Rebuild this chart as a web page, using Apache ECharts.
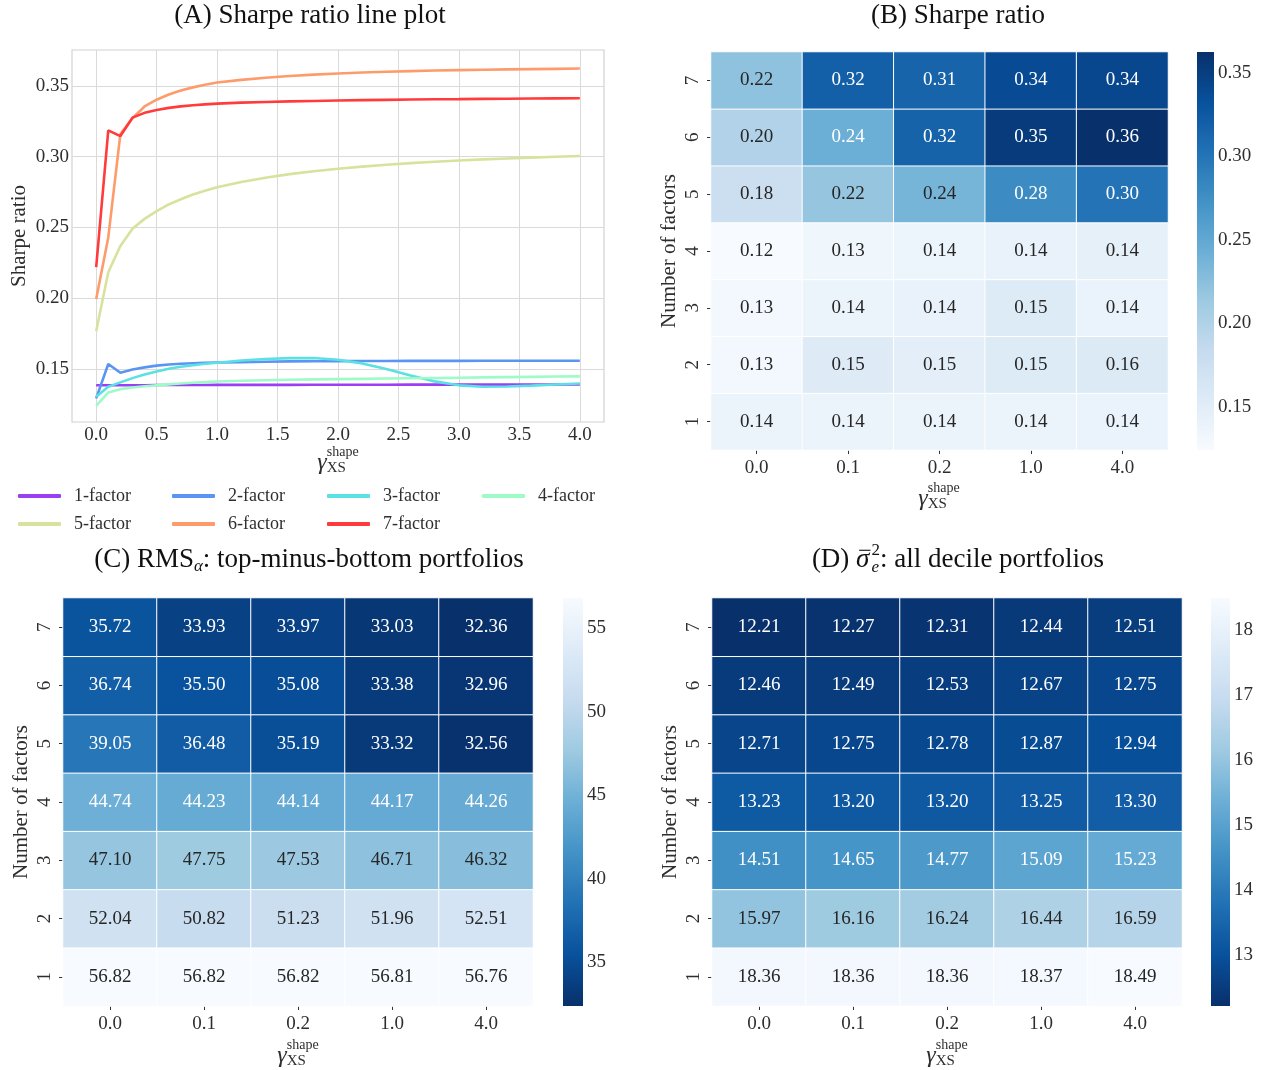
<!DOCTYPE html>
<html><head><meta charset="utf-8">
<script src="https://cdn.jsdelivr.net/npm/echarts@6/dist/echarts.min.js"></script>
<style>html,body{margin:0;padding:0;background:#fff}#c{width:1265px;height:1070px}</style>
</head><body><div id="c"></div><script>
// ---------------- DATA ----------------
const gammaGrid = [0,0.1,0.2,0.3,0.4,0.5,0.6,0.7,0.8,0.9,1.0,1.2,1.4,1.6,1.8,2.0,2.2,2.4,2.6,2.8,3.0,3.2,3.4,3.6,3.8,4.0];
const factorNames = ['1-factor','2-factor','3-factor','4-factor','5-factor','6-factor','7-factor'];
const sharpe1f = [0.1386,0.1386,0.1386,0.1386,0.1386,0.1387,0.1387,0.1387,0.1387,0.1387,0.1388,0.1388,0.1388,0.1388,0.1389,0.1389,0.1389,0.1389,0.1390,0.1390,0.1390,0.1390,0.1390,0.1391,0.1391,0.1391];
const sharpe2f = [0.1293,0.1536,0.1474,0.1497,0.1512,0.1524,0.1532,0.1537,0.1541,0.1544,0.1546,0.1549,0.1552,0.1554,0.1555,0.1556,0.1557,0.1557,0.1558,0.1558,0.1558,0.1559,0.1559,0.1559,0.1559,0.1559];
const sharpe3f = [0.1304,0.1375,0.1406,0.1436,0.1462,0.1483,0.1502,0.1516,0.1527,0.1537,0.1545,0.1560,0.1571,0.1577,0.1578,0.1566,0.1540,0.1500,0.1455,0.1413,0.1385,0.1375,0.1377,0.1383,0.1391,0.1398];
const sharpe4f = [0.1240,0.1335,0.1358,0.1370,0.1378,0.1385,0.1392,0.1398,0.1403,0.1408,0.1412,0.1417,0.1421,0.1424,0.1427,0.1429,0.1431,0.1433,0.1435,0.1437,0.1439,0.1441,0.1443,0.1445,0.1447,0.1448];
const sharpe5f = [0.1767,0.2184,0.2370,0.2491,0.2561,0.2616,0.2663,0.2700,0.2733,0.2760,0.2785,0.2822,0.2852,0.2877,0.2897,0.2915,0.2930,0.2943,0.2955,0.2965,0.2973,0.2981,0.2988,0.2994,0.3000,0.3005];
const sharpe6f = [0.1995,0.2430,0.3160,0.3272,0.3355,0.3403,0.3440,0.3468,0.3490,0.3508,0.3524,0.3543,0.3558,0.3570,0.3580,0.3588,0.3595,0.3600,0.3605,0.3609,0.3612,0.3615,0.3617,0.3619,0.3621,0.3623];
const sharpe7f = [0.2220,0.3186,0.3146,0.3276,0.3310,0.3330,0.3345,0.3356,0.3364,0.3370,0.3375,0.3382,0.3387,0.3391,0.3394,0.3397,0.3400,0.3402,0.3404,0.3406,0.3407,0.3409,0.3410,0.3411,0.3412,0.3413];
const lineColors = ['#9b3ff5','#5b95f4','#5be0e3','#9dfbc8','#d8e29c','#fe9b6b','#ff3b3b'];

const heatCats = ['0.0','0.1','0.2','1.0','4.0'];
const heatGammaIdx = [0,1,2,10,25];           // positions of 0.0, 0.1, 0.2, 1.0, 4.0 in gammaGrid
const factorRows = ['1','2','3','4','5','6','7'];
// rows: 1-factor ... 7-factor
const rmsAlpha = [
  [56.82,56.82,56.82,56.81,56.76],
  [52.04,50.82,51.23,51.96,52.51],
  [47.10,47.75,47.53,46.71,46.32],
  [44.74,44.23,44.14,44.17,44.26],
  [39.05,36.48,35.19,33.32,32.56],
  [36.74,35.50,35.08,33.38,32.96],
  [35.72,33.93,33.97,33.03,32.36]
];
const sigmaE = [
  [18.36,18.36,18.36,18.37,18.49],
  [15.97,16.16,16.24,16.44,16.59],
  [14.51,14.65,14.77,15.09,15.23],
  [13.23,13.20,13.20,13.25,13.30],
  [12.71,12.75,12.78,12.87,12.94],
  [12.46,12.49,12.53,12.67,12.75],
  [12.21,12.27,12.31,12.44,12.51]
];
const xTicksA = [0,0.5,1.0,1.5,2.0,2.5,3.0,3.5,4.0];
const yTicksA = [0.15,0.20,0.25,0.30,0.35];
const cbTicksB = [0.15,0.20,0.25,0.30,0.35];
const cbTicksC = [35,40,45,50,55];
const cbTicksD = [13,14,15,16,17,18];

// ---------------- STYLE ----------------
const FONT = "'Liberation Serif', 'DejaVu Serif', serif";
const TXT = '#2e2e2e';
const BLUES = ['#f7fbff','#deebf7','#c6dbef','#9ecae1','#6baed6','#4292c6','#2171b5','#08519c','#08306b'];
const BLUES_R = BLUES.slice().reverse();

const sharpeSeries = [sharpe1f,sharpe2f,sharpe3f,sharpe4f,sharpe5f,sharpe6f,sharpe7f];
const sharpeHeat = sharpeSeries.map(s => heatGammaIdx.map(i => s[i]));

function flat(m){ return m.reduce((a,r)=>a.concat(r),[]); }
function cmap(t){ return echarts.color.lerp(Math.max(0,Math.min(1,t)), BLUES); }
function lum(c){
  const p = echarts.color.parse(c);
  const f = v => { v/=255; return v<=0.03928 ? v/12.92 : Math.pow((v+0.055)/1.055,2.4); };
  return 0.2126*f(p[0])+0.7152*f(p[1])+0.0722*f(p[2]);
}
function heatData(mat, min, max, reverse){
  const out=[];
  mat.forEach((row,r)=>row.forEach((v,c)=>{
    let t=(v-min)/(max-min); if(reverse) t=1-t;
    out.push({value:[c,r,v], label:{color: lum(cmap(t))>0.408 ? '#262626' : '#ffffff'}});
  }));
  return out;
}
const rangeB = [Math.min(...flat(sharpeHeat)), Math.max(...flat(sharpeHeat))];
const rangeC = [Math.min(...flat(rmsAlpha)), Math.max(...flat(rmsAlpha))];
const rangeD = [Math.min(...flat(sigmaE)), Math.max(...flat(sigmaE))];

// math-ish text helper built from graphic text elements
const mctx = document.createElement('canvas').getContext('2d');
function fnt(size, italic){ return (italic?'italic ':'') + size + 'px ' + FONT; }
function tw(text,size,italic){ mctx.font = fnt(size,italic); return mctx.measureText(text).width; }
function mathText(parts, cx, cy, color){
  const widths = parts.map(p => p.stack ? Math.max(...p.stack.map(q=>tw(q.t,q.size,q.italic))) : tw(p.t,p.size,p.italic) + (p.extra||0));
  const total = widths.reduce((a,b)=>a+b,0);
  let x = cx - total/2; const els=[];
  parts.forEach((p,i)=>{
    (p.stack || [p]).forEach(q=>{
      els.push({type:'text', x:x+(q.dx||0), y:cy+(q.dy||0), silent:true, z:100,
        style:{text:q.t, font:fnt(q.size,q.italic), fill:color,
               align:'left', textAlign:'left', verticalAlign:'middle', textVerticalAlign:'middle'}});
      if(q.overline){
        els.push({type:'line', silent:true, z:100, shape:{x1:x+3, y1:cy-q.size*0.36, x2:x+widths[i]-1, y2:cy-q.size*0.36},
          style:{stroke:color, lineWidth:1.1}});
      }
    });
    x += widths[i];
  });
  return els;
}
const TS = 27;
function gammaName(cx, cy){
  return mathText([{t:'γ',size:24,italic:true},{stack:[{t:'XS',size:15,dy:5},{t:'shape',size:14,dy:-11}]}], cx, cy, TXT);
}
const graphics = [].concat(
  mathText([{t:'(A) Sharpe ratio line plot',size:TS}], 310, 16, '#111'),
  mathText([{t:'(B) Sharpe ratio',size:TS}], 958, 16, '#111'),
  mathText([{t:'(C) RMS',size:TS},{t:'α',size:17,italic:true,dy:7},{t:': top-minus-bottom portfolios',size:TS}], 309, 560, '#111'),
  mathText([{t:'(D) ',size:TS},{t:'σ',size:TS,italic:true,overline:true,extra:2},{stack:[{t:'2',size:17,dy:-9},{t:'e',size:17,italic:true,dy:8}]},{t:': all decile portfolios',size:TS}], 958, 560, '#111'),
  gammaName(338, 463), gammaName(939, 499), gammaName(298, 1056), gammaName(947, 1056)
);

// ---------------- OPTION ----------------
const labelStyle = {fontFamily:FONT, fontSize:19, color:TXT};
const grids = [
  {left:72, top:50, width:532, height:372, show:true, borderColor:'#d2d2d2', borderWidth:1.2, backgroundColor:'#fff'},
  {left:711, top:52, width:457, height:398},
  {left:63, top:598, width:470, height:408},
  {left:712, top:598, width:470, height:408},
  {left:1197, top:52, width:17, height:398, show:true, borderWidth:0, backgroundColor:new echarts.graphic.LinearGradient(0,0,0,1, BLUES_R.map((c,i)=>({offset:i/8,color:c})))},
  {left:563, top:598, width:20, height:408, show:true, borderWidth:0, backgroundColor:new echarts.graphic.LinearGradient(0,0,0,1, BLUES.map((c,i)=>({offset:i/8,color:c})))},
  {left:1211, top:598, width:19, height:408, show:true, borderWidth:0, backgroundColor:new echarts.graphic.LinearGradient(0,0,0,1, BLUES.map((c,i)=>({offset:i/8,color:c})))}
].map(g => Object.assign({outerBoundsMode:'none', containLabel:false}, g));

function heatX(gi){
  return {gridIndex:gi, type:'category', data:heatCats, axisLine:{show:false},
    axisTick:{show:true, alignWithLabel:true, length:4, lineStyle:{color:'#333', width:1}},
    axisLabel:Object.assign({margin:9}, labelStyle), splitLine:{show:false}};
}
function heatY(gi){
  return {gridIndex:gi, type:'category', data:factorRows, axisLine:{show:false},
    axisTick:{show:true, alignWithLabel:true, length:4, lineStyle:{color:'#333', width:1}},
    axisLabel:Object.assign({margin:8, rotate:90}, labelStyle), splitLine:{show:false},
    name:'Number of factors', nameLocation:'middle', nameGap:31, nameTextStyle:{fontFamily:FONT, fontSize:21, color:TXT}};
}
function cbX(gi){ return {gridIndex:gi, type:'value', min:0, max:1, show:false}; }
function cbY(gi, range, ticks, digits){
  return {gridIndex:gi, type:'value', min:range[0], max:range[1], position:'right',
    axisLine:{show:false}, axisTick:{show:false}, splitLine:{show:false},
    axisLabel:Object.assign({margin:4, customValues:ticks, formatter:v=>v.toFixed(digits)}, labelStyle)};
}

const lineSeries = sharpeSeries.map((s,k)=>({
  name:factorNames[k], type:'line', xAxisIndex:0, yAxisIndex:0,
  data:gammaGrid.map((g,i)=>[g,s[i]]), showSymbol:false, symbol:'none',
  lineStyle:{width:2.6, color:lineColors[k]}, itemStyle:{color:lineColors[k]},
  emphasis:{disabled:true}, animation:false
}));
function heatSeries(gi, mat, range, reverse){
  return {type:'heatmap', xAxisIndex:gi, yAxisIndex:gi, data:heatData(mat, range[0], range[1], reverse),
    label:{show:true, fontFamily:FONT, fontSize:19, formatter:p=>p.value[2].toFixed(2)},
    itemStyle:{borderColor:'#ffffff', borderWidth:1}, emphasis:{disabled:true}, animation:false};
}

const legendLeft = [18, 172, 327, 482, 18, 172, 327];
const legendTop = [487, 487, 487, 487, 515, 515, 515];
const legends = factorNames.map((n,k)=>({data:[n], left:legendLeft[k], top:legendTop[k], padding:0,
  orient:'horizontal', icon:'roundRect', itemWidth:43, itemHeight:4,
  textStyle:{fontFamily:FONT, fontSize:18, color:TXT, padding:[0,0,0,8]}, selectedMode:false}));

const option = {
  backgroundColor:'#fff',
  animation:false,
  grid:grids,
  xAxis:[
    {gridIndex:0, type:'value', min:-0.2, max:4.2, axisLine:{show:false},
      axisTick:{show:false, customValues:xTicksA},
      axisLabel:Object.assign({margin:4, customValues:xTicksA, formatter:v=>v.toFixed(1)}, labelStyle),
      splitLine:{show:true, lineStyle:{color:'#dadada', width:1}}},
    heatX(1), heatX(2), heatX(3), cbX(4), cbX(5), cbX(6)
  ],
  yAxis:[
    {gridIndex:0, type:'value', min:0.1126, max:0.3754, axisLine:{show:false},
      axisTick:{show:false, customValues:yTicksA},
      axisLabel:Object.assign({margin:3, customValues:yTicksA, formatter:v=>v.toFixed(2)}, labelStyle),
      splitLine:{show:true, lineStyle:{color:'#dadada', width:1}},
      name:'Sharpe ratio', nameLocation:'middle', nameGap:42, nameTextStyle:{fontFamily:FONT, fontSize:21, color:TXT}},
    heatY(1), heatY(2), heatY(3),
    cbY(4, rangeB, cbTicksB, 2), cbY(5, rangeC, cbTicksC, 0), cbY(6, rangeD, cbTicksD, 0)
  ],
  visualMap:[
    {type:'continuous', show:false, seriesIndex:7, dimension:2, min:rangeB[0], max:rangeB[1], inRange:{color:BLUES}},
    {type:'continuous', show:false, seriesIndex:8, dimension:2, min:rangeC[0], max:rangeC[1], inRange:{color:BLUES_R}},
    {type:'continuous', show:false, seriesIndex:9, dimension:2, min:rangeD[0], max:rangeD[1], inRange:{color:BLUES_R}}
  ],
  legend:legends,
  series: lineSeries.concat([
    heatSeries(1, sharpeHeat, rangeB, false),
    heatSeries(2, rmsAlpha, rangeC, true),
    heatSeries(3, sigmaE, rangeD, true)
  ]),
  graphic: graphics
};
const chart = echarts.init(document.getElementById('c'), null, {renderer:'canvas'});
chart.setOption(option);
</script></body></html>
